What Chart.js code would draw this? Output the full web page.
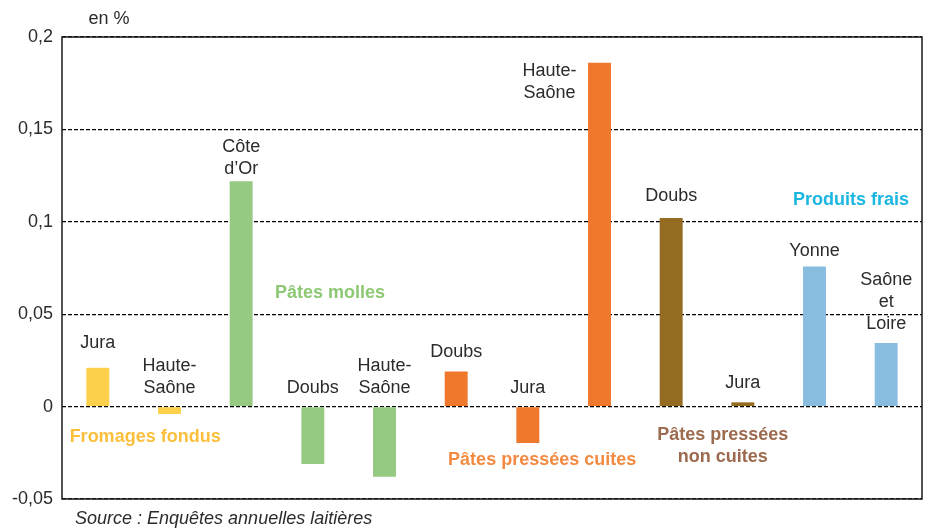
<!DOCTYPE html>
<html>
<head>
<meta charset="utf-8">
<script src="https://cdn.jsdelivr.net/npm/chart.js@4"></script>
<style>
  html, body { margin: 0; padding: 0; background: #fff; }
  #wrap { width: 928px; height: 529px; position: relative; }
</style>
</head>
<body>
<div id="wrap"><canvas id="chart"></canvas></div>
<script>
// departements (une ligne par barre)
const regions = ['Jura', 'Haute-\nSaône', 'Côte\nd\u2019Or', 'Doubs', 'Haute-\nSaône', 'Doubs', 'Jura', 'Haute-\nSaône', 'Doubs', 'Jura', 'Yonne', 'Saône\net\nLoire'];
const valeurs = [0.021, -0.004, 0.122, -0.031, -0.038, 0.019, -0.0197, 0.186, 0.102, 0.0023, 0.0758, 0.0344];
const familles = [0, 0, 1, 1, 1, 2, 2, 2, 3, 3, 4, 4];
const nomsFamilles = ['Fromages fondus', 'Pâtes molles', 'Pâtes pressées cuites', 'Pâtes pressées\nnon cuites', 'Produits frais'];
const couleursBarres = ['#FCD04B', '#96CA82', '#F0782D', '#946C21', '#88BDE0'];
const couleursTextes = ['#FBBF3C', '#8DC974', '#F38A40', '#9C6A4E', '#1BB6E2'];
const graduations = [-0.05, 0, 0.05, 0.1, 0.15, 0.2];

// position des titres de famille (index de categorie, valeur)
const posFamilles = [[0.66, -0.0166], [3.24, 0.0612], [6.2, -0.029], [8.72, -0.0155], [10.51, 0.1116]];
// decalages des etiquettes (px au-dessus du haut de barre)
const decalage = { 0: 25, 2: 12, 8: 22, 10: 15 };
const police = '"Liberation Sans", Arial, sans-serif';

const texte = {
    id: 'texte',
    afterDraw(chart) {
        const { ctx, chartArea: a, scales: { x, y } } = chart;
        ctx.save();
        // cadre
        ctx.strokeStyle = '#1a1a1a';
        ctx.lineWidth = 1.5;
        ctx.setLineDash([]);
        ctx.strokeRect(a.left, a.top, a.right - a.left, a.bottom - a.top);

        ctx.textAlign = 'center';
        ctx.textBaseline = 'middle';
        ctx.fillStyle = '#2b2b2b';
        ctx.font = '18px ' + police;
        ctx.fillText('en %', 109, 19);

        // etiquettes des departements
        regions.forEach((r, i) => {
            const lignes = r.split('\n');
            let cx = x.getPixelForValue(i);
            let bas = y.getPixelForValue(Math.max(valeurs[i], 0)) - (decalage[i] !== undefined ? decalage[i] : 19);
            if (i === 7) { cx -= 50; bas = y.getPixelForValue(valeurs[i]) + 30; }
            lignes.forEach((l, k) => {
                ctx.fillText(l, cx, bas - (lignes.length - 1 - k) * 22);
            });
        });

        // titres des familles
        ctx.font = 'bold 18px ' + police;
        nomsFamilles.forEach((n, f) => {
            ctx.fillStyle = couleursTextes[f];
            const cx = x.getPixelForValue(posFamilles[f][0]);
            const cy = y.getPixelForValue(posFamilles[f][1]);
            n.split('\n').forEach((l, k) => ctx.fillText(l, cx, cy + k * 22));
        });

        // source
        ctx.fillStyle = '#2b2b2b';
        ctx.textAlign = 'left';
        ctx.font = 'italic 18px ' + police;
        ctx.fillText('Source : Enquêtes annuelles laitières', 75, 519);
        ctx.restore();
    }
};

const ctx = document.getElementById('chart').getContext('2d');
const chart = new Chart(ctx, {
    type: 'bar',
    data: {
        labels: regions.map(r => r.replace('\n', ' ')),
        datasets: [{
            data: valeurs,
            backgroundColor: familles.map(f => couleursBarres[f]),
            borderWidth: 0,
            barPercentage: 0.32,
            categoryPercentage: 1
        }]
    },
    options: {
        responsive: true,
        maintainAspectRatio: false,
        animation: false,
        layout: { padding: { top: 37, right: 6, bottom: 30, left: 0 } },
        plugins: {
            legend: { display: false },
            tooltip: { enabled: false }
        },
        scales: {
            x: {
                ticks: { display: false },
                grid: { display: false },
                border: { display: false },
                afterFit(s) { s.height = 0; }
            },
            y: {
                min: -0.05,
                max: 0.2,
                afterFit(s) { s.width = 62; },
                afterBuildTicks(s) { s.ticks = graduations.map(v => ({ value: v })); },
                ticks: {
                    padding: 9,
                    color: '#2b2b2b',
                    font: { family: police, size: 18 },
                    callback: v => String(Math.round(v * 100) / 100).replace('.', ',')
                },
                grid: { color: '#000', lineWidth: 1.2, drawTicks: false },
                border: { display: false, dash: [4, 2] }
            }
        }
    },
    plugins: [texte]
});
</script>
</body>
</html>
